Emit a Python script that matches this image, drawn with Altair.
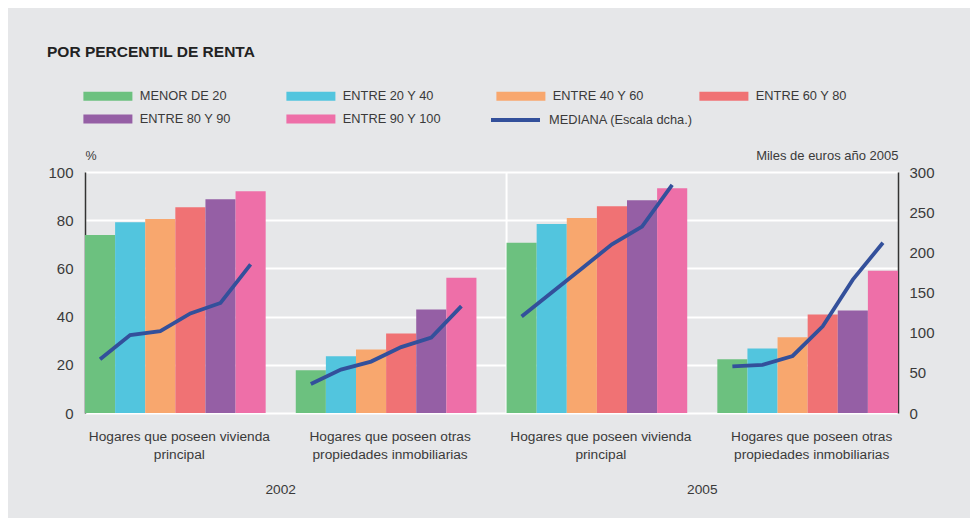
import altair as alt
import pandas as pd

# ---------------- data ----------------
percentiles = ["MENOR DE 20", "ENTRE 20 Y 40", "ENTRE 40 Y 60",
               "ENTRE 60 Y 80", "ENTRE 80 Y 90", "ENTRE 90 Y 100"]
colors = ["#6cc17f", "#52c5de", "#f8a76e", "#f07274", "#955fa5", "#ee6fa8"]
groups = ["Hogares que poseen vivienda\nprincipal",
          "Hogares que poseen otras\npropiedades inmobiliarias"]
years = ["2002", "2005"]

# % of households (left axis)
pct_2002_viv = [73.9, 79.2, 80.5, 85.4, 88.7, 92.0]
pct_2002_otr = [17.7, 23.5, 26.4, 33.0, 42.9, 56.1]
pct_2005_viv = [70.6, 78.4, 80.9, 85.8, 88.3, 93.3]
pct_2005_otr = [22.3, 26.8, 31.4, 40.9, 42.5, 59.0]

# median, thousand euros of 2005 (right axis)
med_2002_viv = [67, 97, 102, 124, 137, 185]
med_2002_otr = [36, 54, 64, 82, 94, 133]
med_2005_viv = [120, 150, 180, 210, 232, 284]
med_2005_otr = [58, 60, 71, 108, 166, 212]

median_label = "MEDIANA (Escala dcha.)"

panels = [
    ("2002", groups[0], pct_2002_viv, med_2002_viv),
    ("2002", groups[1], pct_2002_otr, med_2002_otr),
    ("2005", groups[0], pct_2005_viv, med_2005_viv),
    ("2005", groups[1], pct_2005_otr, med_2005_otr),
]

# ---------------- tables ----------------
n = len(percentiles)
step = n + 1  # one empty slot between groups
rows = []
for g, (yr, grp, pcts, meds) in enumerate(panels):
    for k, (p, v, m) in enumerate(zip(percentiles, pcts, meds)):
        slot = g * step + k
        rows.append({"panel": g, "year": yr, "grupo": grp, "percentil": p,
                     "x": slot, "x2": slot + 1, "xc": slot + 0.5,
                     "pct": v, "mediana": m, "serie": median_label})
df = pd.DataFrame(rows)

total_slots = len(panels) * step - 1
glab = pd.DataFrame({"xc": [g * step + n / 2 for g in range(len(panels))],
                     "text": [p[1].split("\n") for p in panels]})
ylab = pd.DataFrame({"xc": [(2 * i * step + n / 2 + (2 * i + 1) * step + n / 2) / 2
                            for i in range(len(years))],
                     "text": years})
sep = pd.DataFrame({"xs": [2 * step]})

W, H = 813, 241
FONT = "Liberation Sans"
TXT = "#3a3a3a"

xscale = alt.Scale(domain=[0, total_slots], nice=False, zero=False, padding=0)

sep_rule = alt.Chart(sep).mark_rule(color="white", strokeWidth=2).encode(
    x=alt.X("xs:Q", scale=xscale, axis=None),
    y=alt.value(0), y2=alt.value(H),
)

bars = alt.Chart(df).mark_bar(stroke=None).encode(
    x=alt.X("x:Q", scale=xscale,
            axis=alt.Axis(labels=False, ticks=False, grid=False, title=None,
                          domain=True, domainColor="#333333", domainWidth=1.5)),
    x2="x2:Q",
    y=alt.Y("pct:Q", scale=alt.Scale(domain=[0, 100], nice=False),
            axis=alt.Axis(values=[0, 20, 40, 60, 80, 100], grid=True,
                          gridColor="white", gridWidth=2.2, ticks=False,
                          domainColor="#333333", domainWidth=1.5,
                          labelFontSize=15, labelColor=TXT, labelFont=FONT,
                          labelPadding=12,
                          title="%", titleAngle=0, titleX=0, titleY=-17,
                          titleAlign="left", titleBaseline="middle",
                          titleFontSize=12.5, titleFontWeight="normal",
                          titleColor=TXT, titleFont=FONT)),
    y2=alt.datum(0),
    color=alt.Color("percentil:N", scale=alt.Scale(domain=percentiles, range=colors),
                    legend=alt.Legend(title=None, orient="none", legendX=16.5,
                                      legendY=-82.5, columns=4, direction="horizontal",
                                      symbolType="M-4.9,-0.9H4.9V0.9H-4.9Z",
                                      symbolSize=100, symbolStrokeWidth=0,
                                      labelFontSize=12.8, labelColor=TXT,
                                      labelFont=FONT, labelOffset=25.5,
                                      columnPadding=54, rowPadding=9,
                                      labelLimit=300)),
)

line = alt.Chart(df).mark_line(strokeWidth=3.8).encode(
    x=alt.X("xc:Q", scale=xscale, axis=None),
    y=alt.Y("mediana:Q", scale=alt.Scale(domain=[0, 300], nice=False),
            axis=alt.Axis(orient="right", values=[0, 50, 100, 150, 200, 250, 300],
                          grid=False, ticks=False,
                          domainColor="#333333", domainWidth=1.5,
                          labelFontSize=15, labelColor=TXT, labelFont=FONT,
                          labelPadding=11,
                          title="Miles de euros año 2005", titleAngle=0,
                          titleX=0, titleY=-17, titleAlign="right",
                          titleBaseline="middle", titleFontSize=13,
                          titleFontWeight="normal", titleColor=TXT,
                          titleFont=FONT)),
    detail="panel:N",
    stroke=alt.Stroke("serie:N", scale=alt.Scale(domain=[median_label], range=["#33509b"]),
                      legend=alt.Legend(title=None, orient="none", legendX=404,
                                        legendY=-78.5, symbolType="stroke",
                                        symbolSize=2401, symbolStrokeWidth=4,
                                        labelFontSize=12.8, labelColor=TXT,
                                        labelFont=FONT, labelOffset=7)),
)

group_text = alt.Chart(glab).mark_text(fontSize=13.7, font=FONT, color=TXT,
                                       baseline="middle", lineHeight=18,
                                       align="center", dx=4).encode(
    x=alt.X("xc:Q", scale=xscale, axis=None),
    y=alt.value(H + 24),
    text="text",
)

year_text = alt.Chart(ylab).mark_text(fontSize=13.7, font=FONT, color=TXT,
                                      baseline="middle", align="center").encode(
    x=alt.X("xc:Q", scale=xscale, axis=None),
    y=alt.value(H + 77),
    text="text:N",
)

chart = alt.layer(sep_rule, bars, line, group_text, year_text).resolve_scale(
    y="independent", color="independent"
).properties(
    width=W, height=H,
    autosize=alt.AutoSizeParams(type="none"),
    padding={"left": 77, "top": 164, "right": 72, "bottom": 105},
    background="#e6e7e9",
    title=alt.TitleParams("POR PERCENTIL DE RENTA", anchor="start", frame="group",
                          dx=-38, fontSize=15.5, fontWeight="bold", font=FONT,
                          color="#222222", offset=29),
).configure_view(stroke=None)

chart.save("out.html", embed_options={"renderer": "svg", "actions": False})
